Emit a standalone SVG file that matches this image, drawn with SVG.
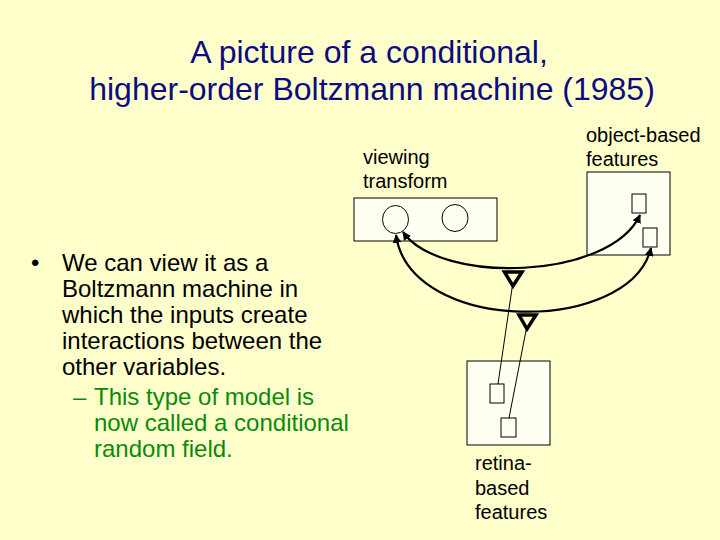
<svg xmlns="http://www.w3.org/2000/svg" width="720" height="540" viewBox="0 0 720 540">
<style>
text{font-family:"Liberation Sans",Arial,sans-serif}
.title{font-size:32px;fill:#0c0c80;text-anchor:middle}
.lbl{font-size:20px;fill:#000}
.body{font-size:24px;fill:#000}
.sub{font-size:24px;fill:#0a8a0a}
.box{fill:#fffff2;stroke:#000;stroke-width:1}
.unit{fill:#fffff2;stroke:#000;stroke-width:1}
.curve{fill:none;stroke:#000;stroke-width:2.2;marker-start:url(#ah);marker-end:url(#ah)}
.thin{fill:none;stroke:#000;stroke-width:1}
.tri{fill:#ffffcc;stroke:#000;stroke-width:3.5;stroke-linejoin:miter}
</style>
<defs>
<marker id="ah" viewBox="0 0 10 10" refX="9" refY="5" markerWidth="4" markerHeight="4" orient="auto-start-reverse" markerUnits="strokeWidth">
<path d="M0,0 L10,5 L0,10 z" fill="#000"/>
</marker>
</defs>
<rect width="720" height="540" fill="#ffffcc"/>
<g id="title">
<text class="title" x="369" y="63">A picture of a conditional,</text>
<text class="title" x="372" y="100">higher-order Boltzmann machine (1985)</text>
</g>
<g id="bullets">
<text class="body" x="31" y="271">•</text>
<text class="body" x="62" y="271">We can view it as a</text>
<text class="body" x="62" y="297">Boltzmann machine in</text>
<text class="body" x="62" y="323">which the inputs create</text>
<text class="body" x="62" y="349">interactions between the</text>
<text class="body" x="62" y="375">other variables.</text>
<text class="sub" x="73" y="405">–</text>
<text class="sub" x="94" y="405">This type of model is</text>
<text class="sub" x="94" y="431">now called a conditional</text>
<text class="sub" x="94" y="457">random field.</text>
</g>
<g id="viewing-transform">
<rect class="box" x="354" y="198" width="143" height="43"/>
<ellipse class="unit" cx="395.5" cy="219.5" rx="13" ry="14"/>
<ellipse class="unit" cx="455" cy="218" rx="13" ry="13.5"/>
<text class="lbl" x="363" y="164">viewing</text>
<text class="lbl" x="363" y="188">transform</text>
</g>
<g id="object-features">
<rect class="box" x="587" y="172" width="83" height="83"/>
<rect class="unit" x="632" y="194" width="14" height="19"/>
<rect class="unit" x="643" y="228" width="14" height="19"/>
<text class="lbl" x="586" y="142">object-based</text>
<text class="lbl" x="586" y="166">features</text>
</g>
<g id="retina-features">
<rect class="box" x="467" y="361" width="83" height="84"/>
<rect class="unit" x="490" y="384" width="14" height="19"/>
<rect class="unit" x="501" y="418" width="15" height="19"/>
<text class="lbl" x="475" y="470">retina-</text>
<text class="lbl" x="475" y="495">based</text>
<text class="lbl" x="475" y="519">features</text>
</g>
<g id="connectors">
<path class="curve" d="M403,232 C440,285 610,280 640,215"/>
<path class="curve" d="M396,235 C410,335 630,335 651,248"/>
<line class="thin" x1="512.5" y1="285" x2="498" y2="384"/>
<line class="thin" x1="526.5" y1="328" x2="509" y2="418"/>
<polygon class="tri" points="504.5,272 522,272 513,286"/>
<polygon class="tri" points="519,315 536,315 527,329"/>
</g>
</svg>
